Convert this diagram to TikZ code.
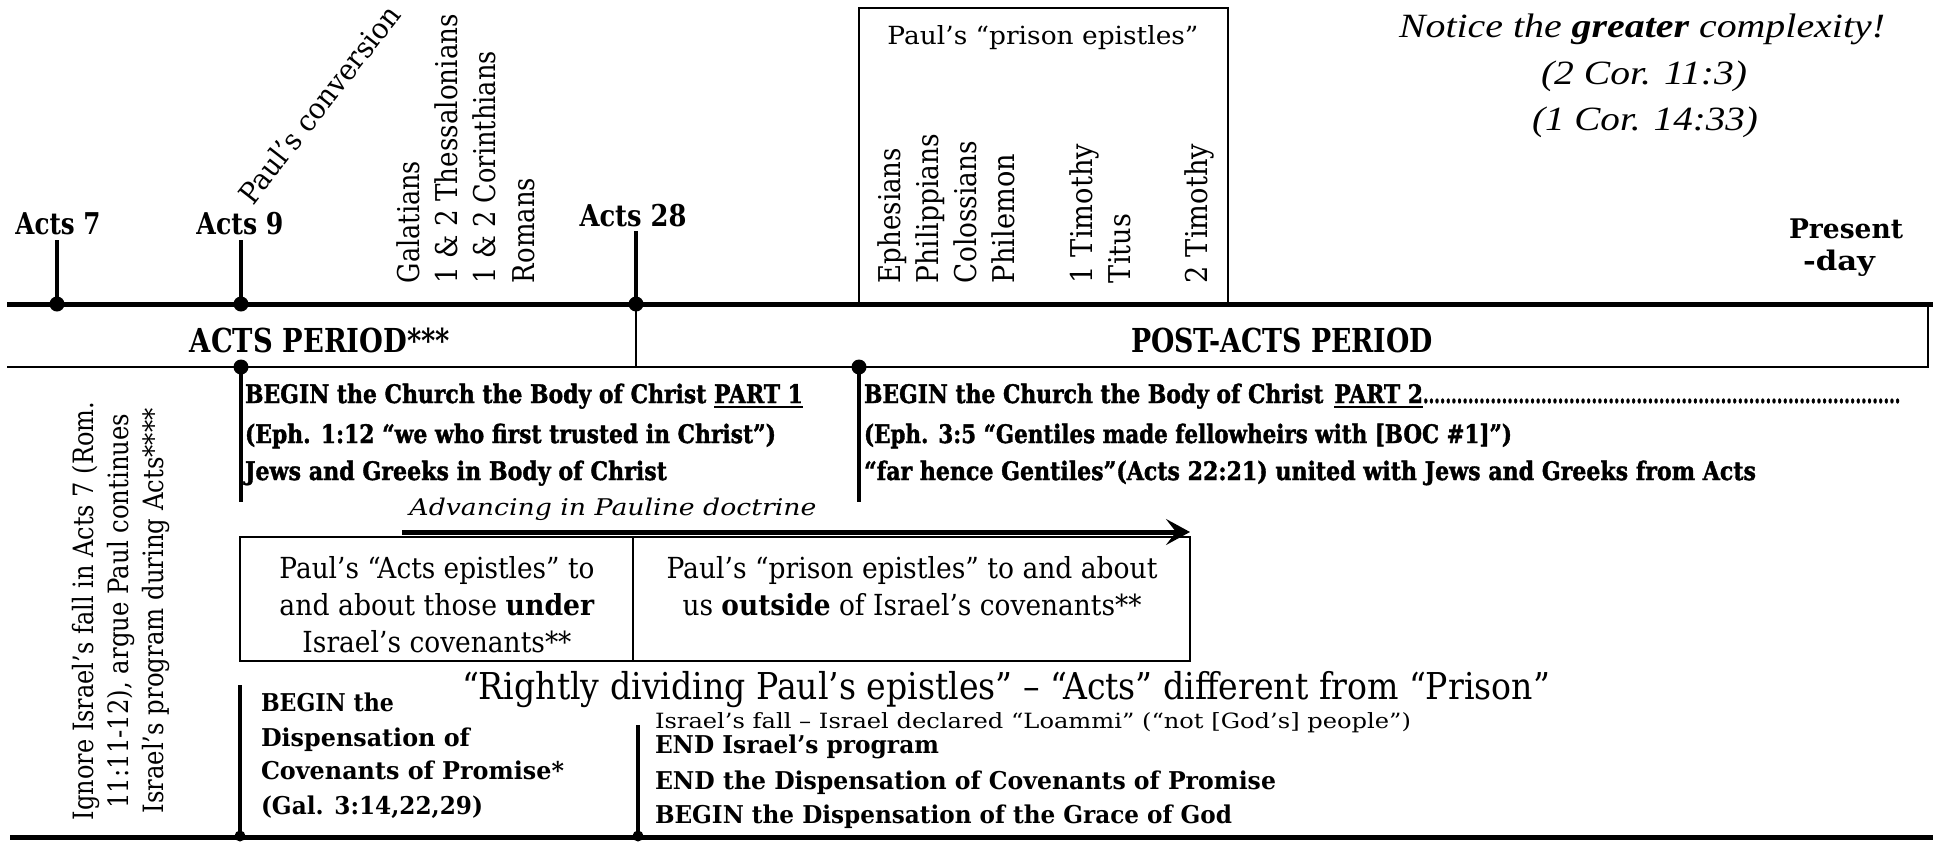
\documentclass[tikz,border=0pt]{standalone}
\usepackage{fontspec}
\usepackage{graphicx}
\setmainfont{DejaVu Serif}
\newfontfamily\tnr{Liberation Serif}
\newfontfamily\heavy{DejaVu Serif}[BoldFeatures={FakeBold=1.6}]
\usetikzlibrary{arrows.meta}
\newcommand\fsz[1]{\fontsize{#1}{#1}\selectfont}
\newcommand\hw[2]{\resizebox{#1pt}{\height}{#2}}
\newcommand\ulx[1]{\setbox0\hbox{#1}\rlap{\rule[-5pt]{\wd0}{2.2pt}}\box0}
\begin{document}
\begin{tikzpicture}[x=1pt,y=-1pt,
  tx/.style={inner sep=0pt,outer sep=0pt},
  thickl/.style={line width=5pt},
  thinl/.style={line width=2pt},
  stem/.style={line width=4pt},
  boxn/.style={draw,line width=1.8pt,inner sep=0pt,outer sep=0pt,anchor=north west},
  dot/.style={circle,fill,inner sep=0pt,minimum size=15pt},
  sdot/.style={circle,fill,inner sep=0pt,minimum size=11pt},
  rot/.style={tx,rotate=90,anchor=base west},
  epi/.style={font=\fsz{30}},
  bld/.style={font=\fsz{25.5}\heavy\bfseries},
  bl2/.style={font=\fsz{24.5}\bfseries}]
\useasboundingbox (0,0) rectangle (1933,841);

% ---------- boxes ----------
\node[boxn,minimum width=369pt,minimum height=296pt] (pbox) at (859,8) {};
\node[boxn,minimum width=393pt,minimum height=124pt] (cellA) at (240,537) {};
\node[boxn,minimum width=557pt,minimum height=124pt] (cellB) at (633,537) {};

% ---------- timeline lines ----------
\coordinate (L0) at (7,304); \coordinate (L1) at (1933,304);
\coordinate (T0) at (7,367); \coordinate (T1) at (1928,367); \coordinate (T2) at (1928,304);
\coordinate (B0) at (10,837); \coordinate (B1) at (1933,837);
\draw[thinl] (T0) -- (T1) -- (T2);
\draw[thickl] (L0) -- (L1);
\draw[thickl] (B0) -- (B1);

% ---------- stems ----------
\coordinate (s7) at (57,240);
\coordinate (s9) at (241,240);
\coordinate (s28) at (636,231);
\coordinate (s28b) at (636,367);
\coordinate (s9d) at (241,502);
\coordinate (sp2d) at (859,502);
\coordinate (sll) at (240,685);
\coordinate (slr) at (638,725);
\node[dot] (d7) at (57,304) {};
\node[dot] (d9) at (241,304) {};
\node[dot] (d28) at (636,304) {};
\node[dot] (d9b) at (241,367) {};
\node[dot] (dp2) at (859,367) {};
\node[sdot] (dll) at (240,836) {};
\node[sdot] (dlr) at (638,836) {};
\draw[stem] (s7) -- (d7.center);
\draw[stem] (s9) -- (d9.center);
\draw[stem] (s28) -- (d28.center);
\draw[thinl] (d28.center) -- (s28b);
\draw[stem] (d9b.center) -- (s9d);
\draw[stem] (dp2.center) -- (sp2d);
\draw[stem] (sll) -- (dll.center);
\draw[stem] (slr) -- (dlr.center);

% ---------- arrow ----------
\coordinate (ar0) at (402,532); \coordinate (ar1) at (1190,532);
\draw[line width=5pt,-{Stealth[length=24pt,width=26pt,inset=10pt]}] (ar0) -- (ar1);

% ---------- top labels ----------
\node[tx,anchor=base,font=\fsz{30}\bfseries] (acts7) at (58,234) {\hw{85}{Acts 7}};
\node[tx,anchor=base,font=\fsz{30}\bfseries] (acts9) at (240,234) {\hw{87}{Acts 9}};
\node[tx,anchor=base,font=\fsz{30}\bfseries] (acts28) at (633,226) {\hw{107}{Acts 28}};
\node[tx,anchor=base,font=\fsz{27}\bfseries] (present) at (1846,238) {\hw{114}{Present}};
\node[tx,anchor=base,font=\fsz{27}\bfseries] (day) at (1839,270) {\hw{72}{-day}};
\node[tx,rotate=52,font=\fsz{29}] (conv) at (319,104) {\hw{242}{Paul’s conversion}};

\node[rot,epi] (gal) at (419,283) {\hw{122}{Galatians}};
\node[rot,epi] (thes) at (457,283) {\hw{269}{1 \& 2 Thessalonians}};
\node[rot,epi] (cor) at (495,283) {\hw{232}{1 \& 2 Corinthians}};
\node[rot,epi] (rom) at (534,283) {\hw{105}{Romans}};

\node[rot,epi] (eph) at (900,283) {\hw{135}{Ephesians}};
\node[rot,epi] (phil) at (938,283) {\hw{149}{Philippians}};
\node[rot,epi] (col) at (976,283) {\hw{142}{Colossians}};
\node[rot,epi] (phm) at (1014,283) {\hw{129}{Philemon}};
\node[rot,epi] (tim1) at (1092,283) {\hw{139}{1 Timothy}};
\node[rot,epi] (tit) at (1130,283) {\hw{69}{Titus}};
\node[rot,epi] (tim2) at (1207,283) {\hw{139}{2 Timothy}};

\node[tx,anchor=base,font=\fsz{25}] (ptitle) at (1043,44) {\hw{311}{Paul’s “prison epistles”}};

\node[tx,anchor=base,font=\fsz{34}\tnr\itshape] (notice1) at (1642,37) {\hw{486}{Notice the \textbf{greater} complexity!}};
\node[tx,anchor=base,font=\fsz{34}\tnr\itshape] (notice2) at (1644,84) {\hw{206}{(2 Cor. 11:3)}};
\node[tx,anchor=base,font=\fsz{34}\tnr\itshape] (notice3) at (1645,130) {\hw{226}{(1 Cor. 14:33)}};

% ---------- period band ----------
\node[tx,anchor=base,font=\fsz{33}\bfseries] (actsper) at (320,352) {\hw{260}{ACTS PERIOD***}};
\node[tx,anchor=base,font=\fsz{33}\bfseries] (postper) at (1282,352) {\hw{302}{POST-ACTS PERIOD}};

% ---------- body of Christ blocks ----------
\node[tx,anchor=base west,bld] (p1a) at (245,403) {\hw{558}{BEGIN the Church the Body of Christ \ulx{PART 1}}};
\node[tx,anchor=base west,bld] (p1b) at (245,443) {\hw{531}{(Eph. 1:12 “we who first trusted in Christ”)}};
\node[tx,anchor=base west,bld] (p1c) at (245,480) {\hw{422}{Jews and Greeks in Body of Christ}};

\node[tx,anchor=base west,bld] (p2a) at (864,403) {\hw{559}{BEGIN the Church the Body of Christ\enspace\ulx{PART 2}}\hw{481}{\hbox to 760pt{\leaders\hbox{.}\hfill}}};
\node[tx,anchor=base west,bld] (p2b) at (864,443) {\hw{648}{(Eph. 3:5 “Gentiles made fellowheirs with [BOC \#1]”)}};
\node[tx,anchor=base west,bld] (p2c) at (864,480) {\hw{892}{“far hence Gentiles”(Acts 22:21) united with Jews and Greeks from Acts}};

\node[tx,anchor=base,font=\fsz{23}\itshape] (adv) at (613,515) {\hw{407}{Advancing in Pauline doctrine}};

% ---------- two-cell box text ----------
\node[tx,anchor=base,font=\fsz{29}] (bl1) at (437,578) {\hw{315}{Paul’s “Acts epistles” to}};
\node[tx,anchor=base,font=\fsz{29}] (bl2) at (437,615) {\hw{315}{and about those \textbf{under}}};
\node[tx,anchor=base,font=\fsz{29}] (bl3) at (437,652) {\hw{269}{Israel’s covenants**}};
\node[tx,anchor=base,font=\fsz{29}] (br1) at (912,578) {\hw{491}{Paul’s “prison epistles” to and about}};
\node[tx,anchor=base,font=\fsz{29}] (br2) at (912,615) {\hw{459}{us \textbf{outside} of Israel’s covenants**}};

\node[tx,anchor=base,font=\fsz{37}] (big) at (1006,699) {\hw{1088}{“Rightly dividing Paul’s epistles” – “Acts” different from “Prison”}};

% ---------- lower blocks ----------
\node[tx,anchor=base west,bl2] (ll1) at (261,711) {\hw{133}{BEGIN the}};
\node[tx,anchor=base west,bl2] (ll2) at (261,746) {\hw{209}{Dispensation of}};
\node[tx,anchor=base west,bl2] (ll3) at (261,779) {\hw{303}{Covenants of Promise*}};
\node[tx,anchor=base west,bl2] (ll4) at (261,814) {\hw{222}{(Gal. 3:14,22,29)}};

\node[tx,anchor=base west,font=\fsz{21}] (lr0) at (655,728) {\hw{756}{Israel’s fall – Israel declared “Loammi” (“not [God’s] people”)}};
\node[tx,anchor=base west,bl2] (lr1) at (655,753) {\hw{284}{END Israel’s program}};
\node[tx,anchor=base west,bl2] (lr2) at (655,789) {\hw{621}{END the Dispensation of Covenants of Promise}};
\node[tx,anchor=base west,bl2] (lr3) at (655,823) {\hw{577}{BEGIN the Dispensation of the Grace of God}};

% ---------- left rotated note ----------
\node[tx,rotate=90,anchor=base,font=\fsz{28}] (ign1) at (93,611) {\hw{418}{Ignore Israel’s fall in Acts 7 (Rom.}};
\node[tx,rotate=90,anchor=base,font=\fsz{28}] (ign2) at (128,611) {\hw{395}{11:11-12), argue Paul continues}};
\node[tx,rotate=90,anchor=base,font=\fsz{28}] (ign3) at (163,611) {\hw{405}{Israel’s program during Acts****}};
\end{tikzpicture}
\end{document}
